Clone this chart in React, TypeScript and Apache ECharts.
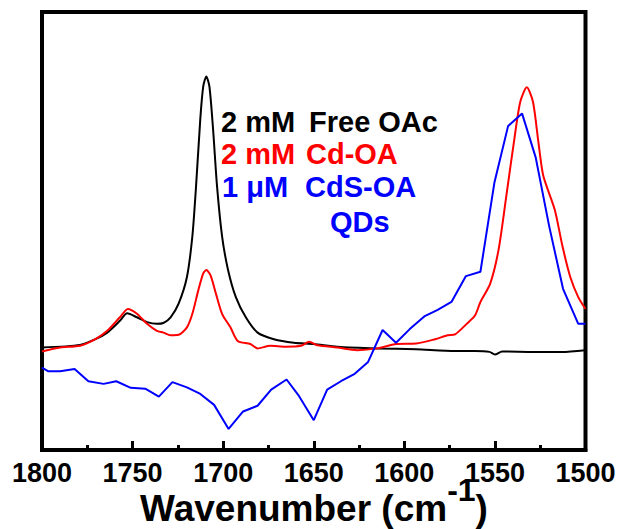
import React, { useEffect, useRef } from "react";
import * as echarts from "echarts";

// Wavenumber (cm^-1) and absorbance (a.u.) for each spectrum
const freeOAcX = [1800, 1779, 1770.5, 1764, 1757, 1753, 1747.6, 1742, 1736.6, 1733, 1729, 1724.6, 1720, 1717, 1715, 1712.6, 1711, 1709.3, 1707.6, 1705.6, 1703.4, 1700.6, 1697.3, 1693, 1687.5, 1681, 1672, 1661, 1650, 1637, 1615, 1593.5, 1572, 1561, 1553, 1550, 1546, 1528, 1513, 1500];
const freeOAcY = [0.4, 1.0, 2.3, 3.8, 6.5, 8.2, 7.3, 6.2, 5.8, 6.0, 7.3, 10.4, 16.5, 25.8, 37, 52.7, 60, 62.3, 60, 50.4, 37.3, 25.8, 18.1, 11.9, 7.3, 3.8, 2.3, 1.5, 1.2, 0.6, 0.2, 0, -0.4, -0.4, -0.6, -1.2, -0.5, -0.6, -0.6, -0.2];

const cdOAX = [1800, 1790, 1779, 1770.5, 1764, 1757, 1752.6, 1747.6, 1742, 1736.6, 1733, 1729, 1724.6, 1720, 1717, 1713.7, 1711, 1709.3, 1707, 1704, 1700.6, 1696, 1692, 1685, 1681, 1674, 1665.6, 1657, 1652.5, 1648, 1637, 1626, 1615, 1604.5, 1593.5, 1583, 1576, 1572, 1565.6, 1561, 1558, 1552.6, 1548, 1543.7, 1539, 1536, 1532.4, 1529, 1526, 1523.3, 1517, 1512.7, 1508.4, 1504, 1500];
const cdOAY = [-0.5, 0.4, 0.8, 2.3, 4.2, 7.3, 9.2, 8.1, 5.8, 4.2, 3.8, 3.2, 3.3, 5, 8.1, 13.5, 17.3, 18.1, 16.9, 12.7, 8.1, 5, 1.9, 1.2, 0.2, 0.8, 0.6, 0.8, 1.7, 0.9, 0.4, -0.2, 0.2, 1.2, 1.3, 2.3, 3.2, 3.4, 5.8, 7.7, 10.8, 15, 22.7, 35, 48.8, 56.5, 59.8, 56.5, 47.3, 39.6, 31.9, 23.5, 16.5, 11.9, 9.2];

const cdsQDsX = [1800, 1796.7, 1790, 1782, 1774.4, 1766, 1759, 1751, 1743, 1735.5, 1728, 1720, 1712.6, 1705, 1697, 1689, 1681, 1673.5, 1665, 1658.6, 1650, 1642.6, 1635, 1627.4, 1620, 1612, 1604.6, 1597, 1589, 1581.6, 1574, 1566, 1558, 1550.3, 1542.7, 1535, 1527.5, 1520, 1512.4, 1504, 1500];
const cdsQDsY = [-4.2, -5, -5, -4.5, -7.3, -7.9, -7.3, -8.8, -9, -10.8, -7.5, -8.7, -10.2, -12.7, -18.2, -14.2, -12.9, -9.2, -6.9, -10.4, -16.2, -9.2, -7.3, -5.6, -2.9, 4.4, 1.5, 4.6, 7.5, 9, 10.8, 16.7, 17.7, 38, 51, 53.8, 43.8, 28, 13.8, 5.8, 5.8];

const xTicks = { min: 1500, max: 1800, step: 50 };
const yRange = { min: -23, max: 77 };

const FONT = "'Liberation Sans', Arial, sans-serif";

const pairs = (xs: number[], ys: number[]) => xs.map((x, i) => [x, ys[i]]);

export default function App() {
  const ref = useRef<HTMLDivElement>(null);

  useEffect(() => {
    if (!ref.current) return;
    const chart = echarts.init(ref.current, null, { renderer: "svg" });

    const label = (text: string, x: number, y: number, color: string) => ({
      type: "text",
      x,
      y,
      style: {
        text,
        fill: color,
        font: `bold 29px ${FONT}`,
        textVerticalAlign: "middle",
      },
      z: 10,
    });

    chart.setOption({
      animation: false,
      backgroundColor: "#fff",
      grid: {
        left: 42,
        right: 35.5,
        top: 12,
        bottom: 79,
        show: true,
        borderColor: "#000",
        borderWidth: 4,
        outerBoundsMode: "none",
      },
      xAxis: {
        type: "value",
        min: xTicks.min,
        max: xTicks.max,
        interval: xTicks.step,
        inverse: true,
        splitLine: { show: false },
        axisLine: { show: true, onZero: false, lineStyle: { color: "#000", width: 4 } },
        axisTick: { show: true, inside: true, length: 9, lineStyle: { color: "#000", width: 3 } },
        minorTick: { show: true, splitNumber: 2, length: 5, lineStyle: { color: "#000", width: 3 } },
        axisLabel: {
          color: "#000",
          fontFamily: FONT,
          fontWeight: "bold",
          fontSize: 27,
          margin: 9,
          formatter: (v: number) => String(v),
        },
      },
      yAxis: {
        type: "value",
        min: yRange.min,
        max: yRange.max,
        axisLabel: { show: false },
        axisTick: { show: false },
        splitLine: { show: false },
        axisLine: { show: true, onZero: false, lineStyle: { color: "#000", width: 4 } },
      },
      series: [
        {
          name: "2 mM Free OAc",
          type: "line",
          data: pairs(freeOAcX, freeOAcY),
          showSymbol: false,
          smooth: 0.25,
          lineStyle: { color: "#000", width: 2 },
        },
        {
          name: "2 mM Cd-OA",
          type: "line",
          data: pairs(cdOAX, cdOAY),
          showSymbol: false,
          smooth: 0.25,
          lineStyle: { color: "#ff0000", width: 2 },
        },
        {
          name: "1 μM CdS-OA QDs",
          type: "line",
          data: pairs(cdsQDsX, cdsQDsY),
          showSymbol: false,
          lineStyle: { color: "#0000ff", width: 2 },
        },
      ],
      graphic: [
        label("2 mM", 221, 122, "#000"),
        label("Free OAc", 309, 122, "#000"),
        label("2 mM", 221, 154, "#ff0000"),
        label("Cd-OA", 306, 154, "#ff0000"),
        label("1 μM", 222, 187, "#0000ff"),
        label("CdS-OA", 305, 187, "#0000ff"),
        label("QDs", 330, 222, "#0000ff"),
        {
          // x-axis title with superscript exponent
          type: "text",
          x: 314,
          y: 508,
          style: {
            text: "{a|Wavenumber (cm}{s|-1}{a|)}",
            textAlign: "center",
            textVerticalAlign: "middle",
            rich: {
              a: { fontFamily: FONT, fontWeight: "bold", fontSize: 37, fill: "#000" },
              s: { fontFamily: FONT, fontWeight: "bold", fontSize: 32, fill: "#000", padding: [0, 0, 36, 0] },
            },
          },
        },
      ],
    });

    return () => chart.dispose();
  }, []);

  return <div ref={ref} style={{ width: 621, height: 529, position: "absolute", left: 0, top: 0 }} />;
}
